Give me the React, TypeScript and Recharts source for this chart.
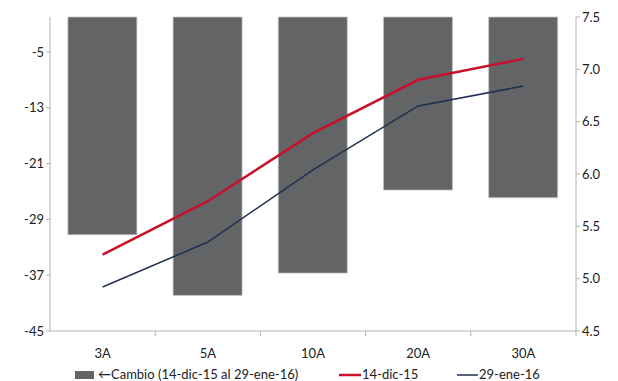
import React from 'react';
import { ComposedChart, Bar, Line, XAxis, YAxis } from 'recharts';

const plazos = ['3A', '5A', '10A', '20A', '30A'];
const cambio = [-31.2, -39.9, -36.7, -24.8, -25.9];
const dic15 = [5.23, 5.74, 6.39, 6.9, 7.1];
const ene16 = [4.92, 5.35, 6.04, 6.65, 6.84];
const ticksIzq = [-45, -37, -29, -21, -13, -5];
const ticksDer = [4.5, 5.0, 5.5, 6.0, 6.5, 7.0, 7.5];

const data = plazos.map((p, i) => ({ plazo: p, cambio: cambio[i], dic15: dic15[i], ene16: ene16[i] }));

const FONT = 'Lato, "Open Sans", sans-serif';
const AXIS = '#b3b3b3';
const TXT = '#222222';

// tick de categoria: etiqueta centrada y marca en el borde derecho de la banda
const CatTick = (props: any) => {
  const { x, y, payload } = props;
  const half = 52.6;
  return (
    <g>
      <line x1={x + half} x2={x + half} y1={y - 8} y2={y - 3} stroke={AXIS} />
      <text x={x} y={y + 19} textAnchor="middle" fill={TXT} fontSize={13} fontFamily={FONT}>
        {payload.value}
      </text>
    </g>
  );
};

const Leyenda = () => (
  <svg width={618} height={20} style={{ position: 'absolute', left: 0, top: 362 }}>
    <rect x={75} y={9} width={19} height={8} fill="#636466" />
    <text x={98} y={17} fontSize={13} fill={TXT} fontFamily={FONT}>←Cambio (14-dic-15 al 29-ene-16)</text>
    <line x1={339} x2={361} y1={13} y2={13} stroke="#c8102e" strokeWidth={2.5} />
    <text x={362} y={17} fontSize={13} fill={TXT} fontFamily={FONT}>14-dic-15</text>
    <line x1={457} x2={478} y1={13} y2={13} stroke="#1f3050" strokeWidth={1.5} />
    <text x={479} y={17} fontSize={13} fill={TXT} fontFamily={FONT}>29-ene-16</text>
  </svg>
);

export default function App() {
  return (
    <div style={{ position: 'absolute', left: 0, top: 0, width: 618, height: 381, background: '#fff' }}>
      <ComposedChart
        width={618}
        height={381}
        data={data}
        margin={{ top: 17, right: 0, left: 0, bottom: 20 }}
        barCategoryGap="17%"
      >
        <XAxis
          dataKey="plazo"
          xAxisId={0}
          axisLine={{ stroke: AXIS }}
          tickLine={false}
          tick={<CatTick />}
          height={30}
          interval={0}
        />
        <YAxis
          yAxisId="izq"
          orientation="left"
          domain={[-45, 0]}
          ticks={ticksIzq}
          width={50}
          axisLine={{ stroke: AXIS }}
          tickLine={{ stroke: AXIS }}
          tickSize={4}
          tick={{ fill: TXT, fontSize: 13, fontFamily: FONT }}
        />
        <YAxis
          yAxisId="der"
          orientation="right"
          domain={[4.5, 7.5]}
          ticks={ticksDer}
          width={42}
          axisLine={{ stroke: AXIS }}
          tickLine={{ stroke: AXIS }}
          tickSize={4}
          tickFormatter={(v: number) => v.toFixed(1)}
          tick={{ fill: TXT, fontSize: 13, fontFamily: FONT }}
        />
        <Bar
          yAxisId="izq"
          dataKey="cambio"
          fill="#636466"
          stroke="#c4c4c4"
          strokeWidth={0.75}
          isAnimationActive={false}
        />
        <Line
          yAxisId="der"
          dataKey="dic15"
          stroke="#c8102e"
          strokeWidth={2.5}
          dot={false}
          isAnimationActive={false}
        />
        <Line
          yAxisId="der"
          dataKey="ene16"
          stroke="#1f3050"
          strokeWidth={1.5}
          dot={false}
          isAnimationActive={false}
        />
      </ComposedChart>
      <Leyenda />
    </div>
  );
}
